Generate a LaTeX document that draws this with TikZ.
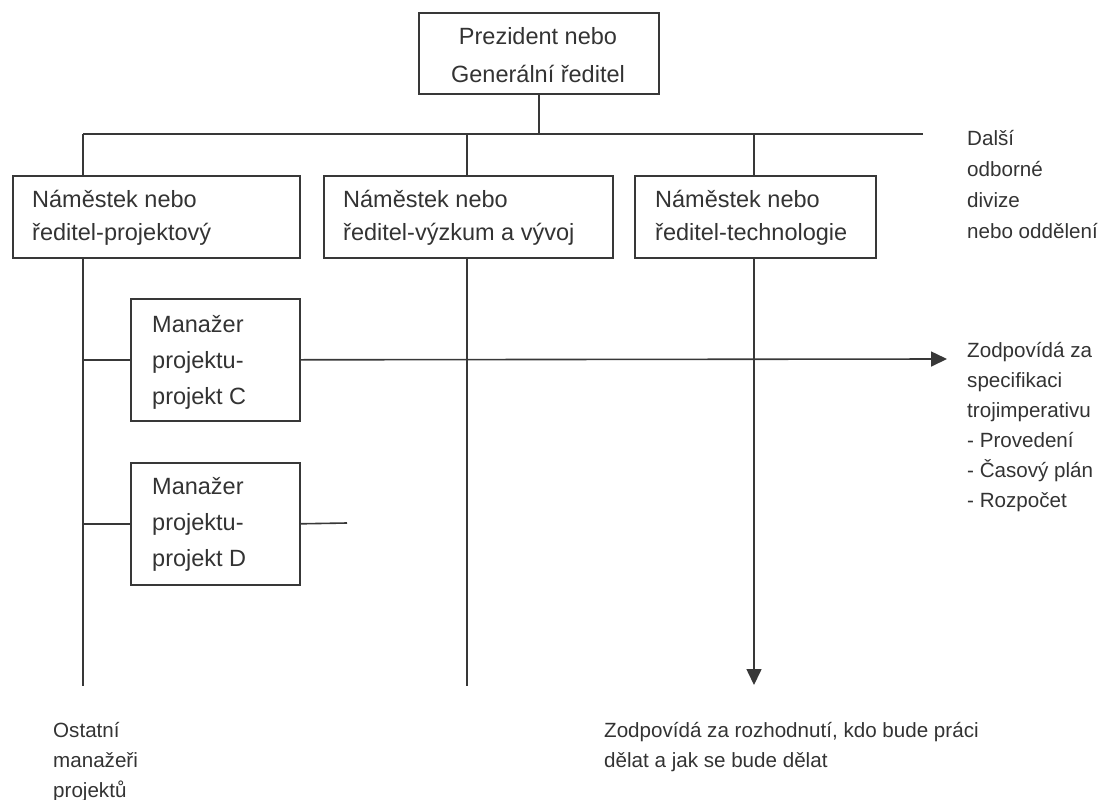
\documentclass[tikz,border=0pt]{standalone}
\usepackage{fontspec}
\setmainfont{Liberation Sans}
\usetikzlibrary{arrows.meta}
\definecolor{ink}{HTML}{333333}
\definecolor{rule}{HTML}{383838}
\tikzset{
  box/.style={draw=rule, line width=1.6pt, rectangle, inner sep=0pt, anchor=north west},
  link/.style={draw=rule, line width=1.6pt},
  tip/.style={-{Triangle[length=16pt,width=15pt]}},
  big/.style={text=ink, inner sep=0pt, font=\fontsize{23.5}{28}\selectfont},
  small/.style={text=ink, inner sep=0pt, anchor=base west, font=\fontsize{20.6}{24}\selectfont},
  lbl/.style={big, anchor=base west}
}
\begin{document}
\begin{tikzpicture}[x=1pt, y=-1pt]
\useasboundingbox (0,0) rectangle (1108,800);

% boxes
\node[box, minimum width=240pt, minimum height=81pt] (pres) at (418,12) {};
\node[box, minimum width=287pt, minimum height=82pt] (dp) at (12,175) {};
\node[box, minimum width=289pt, minimum height=82pt] (dv) at (323,175) {};
\node[box, minimum width=241pt, minimum height=82pt] (dt) at (634,175) {};
\node[box, minimum width=169pt, minimum height=122pt] (mC) at (130,298) {};
\node[box, minimum width=169pt, minimum height=122pt] (mD) at (130,462) {};

% connection points
\coordinate (j1) at (83,134);
\coordinate (j2) at (467,134);
\coordinate (j3) at (754,134);
\coordinate (busEnd) at (923,134);
\coordinate (e1) at (83,686);
\coordinate (e2) at (467,686);
\coordinate (e3) at (754,685);
\coordinate (tipC) at (947,359);
\coordinate (stubD) at (347,523);

% tree lines
\draw[link] (pres.south) -- (pres.south |- j1);
\draw[link] (j1) -- (busEnd);
\draw[link] (j1) -- (j1 |- dp.north);
\draw[link] (j2) -- (j2 |- dv.north);
\draw[link] (j3) -- (j3 |- dt.north);
\draw[link] (j1 |- dp.south) -- (e1);
\draw[link] (j2 |- dv.south) -- (e2);
\draw[link, tip] (j3 |- dt.south) -- (e3);
\draw[link] (j1 |- mC.west) -- (mC.west);
\draw[link] (j1 |- mD.west) -- (mD.west);
\draw[link, tip] (mC.east) -- (tipC);
\draw[link] (mD.east) -- (stubD);

% box texts
\node[big, anchor=base] (t1) at (538,45) {Prezident nebo};
\node[big, anchor=base] (t2) at (538,82) {Generální ředitel};
\begin{scope}
  \clip (0,150) rectangle (1108,244);
  \node[lbl] (a1) at (32,207) {Náměstek nebo};
  \node[lbl] (a2) at (32,240) {ředitel-projektový};
  \node[lbl] (b1) at (343,207) {Náměstek nebo};
  \node[lbl] (b2) at (343,240) {ředitel-výzkum a vývoj};
  \node[lbl] (c1) at (655,207) {Náměstek nebo};
  \node[lbl] (c2) at (655,240) {ředitel-technologie};
\end{scope}
\node[lbl] (mc1) at (152,332) {Manažer};
\node[lbl] (mc2) at (152,368) {projektu-};
\node[lbl] (mc3) at (152,404) {projekt C};
\node[lbl] (md1) at (152,494) {Manažer};
\node[lbl] (md2) at (152,530) {projektu-};
\node[lbl] (md3) at (152,566) {projekt D};

% side notes
\node[small] (n1) at (967,145) {Další};
\node[small] (n2) at (967,176) {odborné};
\node[small] (n3) at (967,207) {divize};
\node[small] (n4) at (967,238) {nebo oddělení};

\node[small] (r1) at (967,357) {Zodpovídá za};
\node[small] (r2) at (967,387) {specifikaci};
\node[small] (r3) at (967,417) {trojimperativu};
\node[small] (r4) at (967,447) {- Provedení};
\node[small] (r5) at (967,477) {- Časový plán};
\node[small] (r6) at (967,507) {- Rozpočet};

\node[small] (o1) at (53,737) {Ostatní};
\node[small] (o2) at (53,767) {manažeři};
\node[small] (o3) at (53,797) {projektů};

\node[small] (z1) at (604,737) {Zodpovídá za rozhodnutí, kdo bude práci};
\node[small] (z2) at (604,767) {dělat a jak se bude dělat};
\end{tikzpicture}
\end{document}
